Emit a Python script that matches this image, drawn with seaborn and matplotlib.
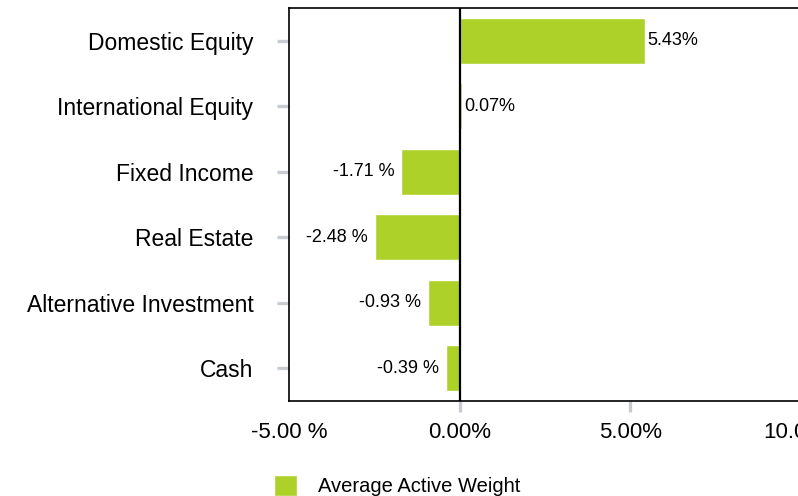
import pandas as pd
import seaborn as sns
import matplotlib.pyplot as plt

categories = ["Domestic Equity", "International Equity", "Fixed Income",
              "Real Estate", "Alternative Investment", "Cash"]
active_weight = [5.43, 0.07, -1.71, -2.48, -0.93, -0.39]
x_ticks = [-5, 0, 5, 10]
x_tick_labels = ["-5.00 %", "0.00%", "5.00%", "10.00%"]
series_name = "Average Active Weight"

df = pd.DataFrame({"category": categories, "weight": active_weight})

sns.set_theme(style="white")
plt.rcParams["font.family"] = ["Liberation Sans", "DejaVu Sans"]
plt.rcParams["text.color"] = "black"
plt.rcParams["xtick.labelcolor"] = "black"
plt.rcParams["ytick.labelcolor"] = "black"

bar_color = "#aed12a"
tick_gray = "#c8ccd0"

fig = plt.figure(figsize=(7.98, 4.96), dpi=100)
ax = fig.add_axes([0.362, 0.1915, 0.6416, 0.7923])

sns.barplot(data=df, x="weight", y="category", orient="h", color=bar_color,
            width=0.7, saturation=1, label=series_name, ax=ax)

ax.set_xlim(-5, 10)
ax.set_ylim(5.5, -0.5)
ax.axvline(0, color="black", lw=1.6, zorder=3)

ax.set_xticks(x_ticks)
ax.set_xticklabels(x_tick_labels, fontsize=16)
ax.set_yticks(range(len(categories)))
ax.set_yticklabels(categories, fontsize=16.5)
ax.set_xlabel("")
ax.set_ylabel("")
ax.tick_params(axis="y", direction="out", length=8.5, width=2.4, color=tick_gray, pad=17, left=True)
ax.tick_params(axis="x", direction="out", length=8, width=2.4, color=tick_gray, pad=7, bottom=True)
ax.xaxis.get_major_ticks()[0].tick1line.set_visible(False)

for side in ["left", "top", "bottom"]:
    ax.spines[side].set_visible(True)
    ax.spines[side].set_color("black")
    ax.spines[side].set_linewidth(1.2)
ax.spines["right"].set_visible(False)

# value labels next to each bar
for p, v in zip(ax.patches, active_weight):
    y = p.get_y() + p.get_height() / 2
    if v >= 0:
        ax.annotate(f"{v:.2f}%", (v, y), xytext=(2, 0), textcoords="offset points",
                    ha="left", va="center", fontsize=13)
    else:
        ax.annotate(f"{v:.2f} %", (v, y), xytext=(-5, 0), textcoords="offset points",
                    ha="right", va="center", fontsize=13)

ax.legend(loc="lower left", bbox_to_anchor=(274 / 798, 0.0), bbox_transform=fig.transFigure,
          frameon=False, fontsize=14.5, handlelength=1.15, handleheight=1.2,
          handletextpad=1.05, borderpad=0, borderaxespad=0)

plt.savefig("out.png", dpi=100)
